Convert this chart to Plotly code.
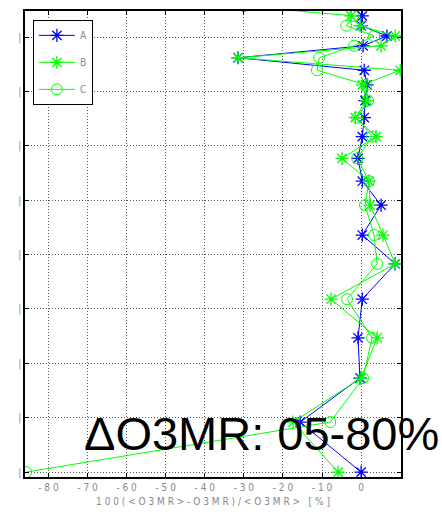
import plotly.graph_objects as go

# vertical levels (unitless, grid lines at integers)
levels = [8.57, 8.39, 8.21, 8.02, 7.84, 7.62, 7.39, 7.12, 6.83, 6.52, 6.17,
          5.77, 5.35, 4.91, 4.36, 3.83, 3.18, 2.47, 1.73, 0.92, 0.0]
series_a = [0.3, 0.3, 0.0, 6.6, 0.5, -31.5, 0.8, 1.5, 1.0, 0.8, 0.3,
            -0.8, 0.3, 5.1, 0.3, 8.7, 0.3, -0.8, -0.3, -15.6, 0.0]
series_b = [-2.5, -2.6, -0.3, 8.7, 5.1, -31.5, 10.0, 0.3, 1.5, -1.5, 3.8,
            -4.9, 2.0, 2.3, 5.6, 8.7, -7.7, 4.1, 0.0, -17.4, -5.9]
series_c = [-30.0, -2.0, -3.8, 3.3, -1.8, -10.7, -11.3, 1.3, 1.8, -1.0, 2.8,
            -1.0, 2.0, 1.0, 3.3, 4.1, -3.6, 2.8, 0.5, -7.9, -85.7]

x_ticks = [-80, -70, -60, -50, -40, -30, -20, -10, 0]
x_ticktext = ["- 8 0", "- 7 0", "- 6 0", "- 5 0", "- 4 0", "- 3 0", "- 2 0", "- 1 0", "0"]
y_ticks = [0, 1, 2, 3, 4, 5, 6, 7, 8]
y_ticktext = ["|"] * 9

BLUE = "#0000ff"
GREEN = "#00ff00"

fig = go.Figure()
fig.add_trace(go.Scatter(
    x=series_a, y=levels, name="A", mode="lines+markers", legendgroup="a",
    line=dict(color=BLUE, width=1),
    marker=dict(symbol="asterisk-open", size=11, color=BLUE, line=dict(color=BLUE, width=1.3)),
))
fig.add_trace(go.Scatter(
    x=series_b, y=levels, name="B", mode="lines+markers", legendgroup="b",
    line=dict(color=GREEN, width=1),
    marker=dict(symbol="asterisk-open", size=11, color=GREEN, line=dict(color=GREEN, width=1.3)),
))
fig.add_trace(go.Scatter(
    x=series_c, y=levels, name="C", mode="lines+markers", legendgroup="c",
    line=dict(color=GREEN, width=1),
    marker=dict(symbol="circle-open", size=11, color=GREEN, line=dict(color=GREEN, width=1)),
))

tickfont = dict(family="Liberation Sans Narrow, DejaVu Sans Condensed, Liberation Sans, sans-serif",
                size=10, color="#888888")

axis_common = dict(
    showline=True, linecolor="black", linewidth=1.6, mirror="allticks",
    ticks="inside", ticklen=4, tickcolor="black",
    showgrid=True, gridcolor="#555555", gridwidth=1, griddash="1px,2px",
    zeroline=False, tickfont=tickfont,
)

fig.update_layout(
    width=442, height=523,
    margin=dict(l=25, r=41, t=9, b=46),
    paper_bgcolor="white", plot_bgcolor="white",
    xaxis=dict(range=[-86, 10.2], tickvals=x_ticks, ticktext=x_ticktext,
               title=dict(text="1 0 0 ( < O 3 M R > - O 3 M R ) / < O 3 M R >   [ % ]",
                          font=tickfont, standoff=6),
               **axis_common),
    yaxis=dict(range=[-0.09, 8.48], tickvals=y_ticks, ticktext=y_ticktext, **axis_common),
    legend=dict(x=0.021, y=0.981, xanchor="left", yanchor="top",
                bordercolor="black", borderwidth=1, bgcolor="white",
                font=tickfont, traceorder="grouped", tracegroupgap=8,
                itemwidth=36),
    annotations=[dict(
        text="ΔO3MR: 05-80%", xref="paper", yref="paper", x=0.1516, y=0.094,
        xanchor="left", yanchor="middle", showarrow=False,
        font=dict(family="Liberation Sans, Arial, sans-serif", size=47, color="black"),
    )],
)

fig.write_html("out.html")
